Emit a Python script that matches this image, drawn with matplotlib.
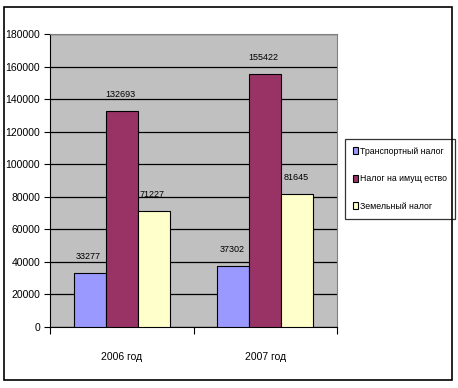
import matplotlib
matplotlib.use("Agg")
import numpy as np
import matplotlib.pyplot as plt
from matplotlib.patches import Patch, Rectangle

plt.rcParams['font.family'] = ['Liberation Sans', 'DejaVu Sans']

# ---- data ------------------------------------------------------------------
years = ["2006 год", "2007 год"]
series_names = ["Транспортный налог", "Налог на имущ ество", "Земельный налог"]
transport = [33277, 37302]
property_tax = [132693, 155422]
land = [71227, 81645]
colors = ["#9999FF", "#993366", "#FFFFCC"]

W, H = 458, 388
fig = plt.figure(figsize=(W / 100, H / 100), dpi=100)

ax = fig.add_axes([50 / W, 1 - 327 / H, 287 / W, 293 / H])
ax.set_facecolor("#C0C0C0")

x = np.arange(len(years))
bw = 0.667 / 3
for i, vals in enumerate([transport, property_tax, land]):
    pos = x - bw + i * bw
    ax.bar(pos, vals, width=bw, color=colors[i], edgecolor="black", lw=0.8, zorder=3)
    for p, v in zip(pos, vals):
        ax.text(p - 0.01, v + 7500, str(v), ha="center", va="bottom",
                fontsize=6.5, zorder=4)

ax.set_xlim(-0.5, 1.5)
ax.set_ylim(0, 180000)
ax.set_yticks(np.arange(0, 180001, 20000))
ax.yaxis.grid(True, color="black", lw=0.9, zorder=1)
ax.set_axisbelow(True)
ax.set_xticks([-0.5, 0.5, 1.5], minor=False)
ax.set_xticklabels([])
ax.set_xticks(x, minor=True)
ax.set_xticklabels(years, minor=True, fontsize=7.5)
ax.tick_params(axis="x", which="minor", length=0, pad=18)
ax.tick_params(axis="x", which="major", length=5, direction="out")
ax.tick_params(axis="y", labelsize=7.5, length=4, direction="out", pad=3)
for s in ["top", "right"]:
    ax.spines[s].set_color("#808080")
ax.spines["left"].set_color("black")
ax.spines["bottom"].set_color("black")

handles = [Patch(facecolor=c, edgecolor="black", lw=0.8) for c in colors]
leg = fig.legend(handles, series_names, loc="upper left",
                 bbox_to_anchor=(345 / W, 1 - 139 / H), fontsize=6.3,
                 frameon=True, fancybox=False, edgecolor="black",
                 handlelength=0.6, handleheight=0.9, handletextpad=0.2,
                 labelspacing=2.1, borderpad=0.9, borderaxespad=0)
leg.get_frame().set_linewidth(0.9)

# outer chart border
fig.patches.append(Rectangle((4 / W, 1 - 380 / H), 448 / W, 373 / H,
                             transform=fig.transFigure, fill=False,
                             edgecolor="black", lw=1.2, zorder=10))

fig.savefig("out.png", dpi=100)
